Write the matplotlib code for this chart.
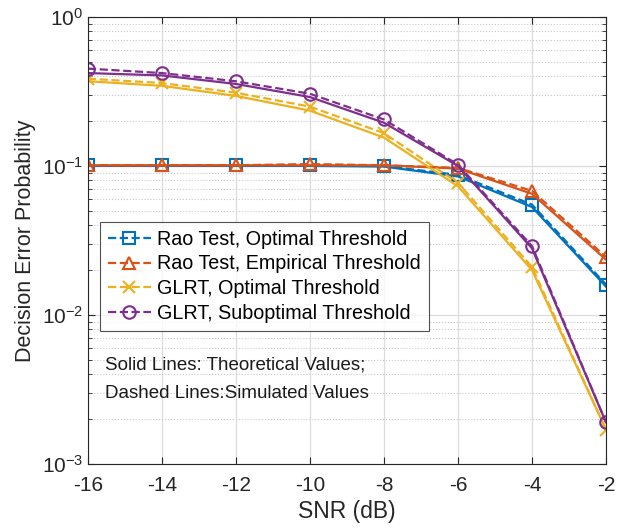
import matplotlib
matplotlib.use("Agg")
import matplotlib.pyplot as plt
from matplotlib.ticker import LogLocator, NullFormatter, FixedLocator, FixedFormatter

plt.rcParams['font.family'] = ['Liberation Sans', 'DejaVu Sans']
plt.rcParams['mathtext.fontset'] = 'custom'
plt.rcParams['mathtext.rm'] = 'Liberation Sans'
plt.rcParams['mathtext.it'] = 'Liberation Sans:italic'

snr = [-16, -14, -12, -10, -8, -6, -4, -2]

rao_opt_theory = [0.100, 0.100, 0.100, 0.100, 0.099, 0.085, 0.053, 0.0155]
rao_opt_sim    = [0.101, 0.101, 0.101, 0.101, 0.100, 0.087, 0.055, 0.0160]
rao_emp_theory = [0.101, 0.101, 0.101, 0.101, 0.101, 0.096, 0.065, 0.0235]
rao_emp_sim    = [0.101, 0.101, 0.101, 0.103, 0.101, 0.097, 0.068, 0.0245]
glrt_opt_theory = [0.37, 0.345, 0.295, 0.235, 0.155, 0.073, 0.020, 0.0017]
glrt_opt_sim    = [0.385, 0.36, 0.31, 0.25, 0.166, 0.077, 0.021, 0.0017]
glrt_sub_theory = [0.42, 0.405, 0.355, 0.29, 0.195, 0.100, 0.028, 0.0019]
glrt_sub_sim    = [0.45, 0.42, 0.37, 0.305, 0.205, 0.102, 0.029, 0.0019]

labels = ['Rao Test, Optimal Threshold', 'Rao Test, Empirical Threshold',
          'GLRT, Optimal Threshold', 'GLRT, Suboptimal Threshold']
colors = ['#0072BD', '#D95319', '#EDB120', '#7E2F8E']
markers = ['s', '^', 'x', 'o']
ytick_vals = [1e-3, 1e-2, 1e-1, 1e0]
ytick_labels = [r'$\mathregular{10^{-3}}$', r'$\mathregular{10^{-2}}$',
                r'$\mathregular{10^{-1}}$', r'$\mathregular{10^{0}}$']

fig = plt.figure(figsize=(6.19, 5.29), dpi=100)
ax = fig.add_axes([0.142, 0.123, 0.837, 0.845])

theory = [rao_opt_theory, rao_emp_theory, glrt_opt_theory, glrt_sub_theory]
sim = [rao_opt_sim, rao_emp_sim, glrt_opt_sim, glrt_sub_sim]
handles = []
for th, si, c, m, lab in zip(theory, sim, colors, markers, labels):
    ax.plot(snr, th, '-', color=c, lw=1.6)
    h, = ax.plot(snr, si, '--', color=c, lw=1.6, marker=m, markersize=9,
                 markerfacecolor='none', markeredgewidth=1.5, label=lab)
    handles.append(h)

ax.set_yscale('log')
ax.set_xlim(-16, -2)
ax.set_ylim(1e-3, 1)
ax.set_xticks(snr)
ax.set_xticklabels([str(s) for s in snr])
ax.yaxis.set_major_locator(FixedLocator(ytick_vals))
ax.yaxis.set_major_formatter(FixedFormatter(ytick_labels))
ax.yaxis.set_minor_locator(LogLocator(base=10, subs=range(2, 10), numticks=20))
ax.yaxis.set_minor_formatter(NullFormatter())

ax.grid(True, which='major', color='#dcdcdc', lw=0.9, ls='-')
ax.grid(True, which='minor', axis='y', color='#c8c8c8', lw=0.8, ls=':')
ax.set_axisbelow(True)
ax.tick_params(which='both', direction='in', top=True, right=True,
               labelsize=15, colors='#262626')
ax.tick_params(which='major', length=5)
ax.tick_params(which='minor', length=3)
ax.tick_params(axis='x', pad=9)
for sp in ax.spines.values():
    sp.set_color('#262626')
    sp.set_linewidth(0.8)

ax.set_xlabel('SNR (dB)', fontsize=16.5, color='#262626', labelpad=3)
ax.set_ylabel('Decision Error Probability', fontsize=15.5, color='#262626', labelpad=4)

leg = ax.legend(handles=handles, loc='upper left', bbox_to_anchor=(0.023, 0.542),
                fontsize=14.2, frameon=True, fancybox=False, edgecolor='#262626',
                handlelength=2.2, handletextpad=0.3, borderpad=0.4, labelspacing=0.3,
                borderaxespad=0.0)
leg.get_frame().set_linewidth(0.8)

ax.text(0.033, 0.222, 'Solid Lines: Theoretical Values;', transform=ax.transAxes,
        fontsize=13.5, color='#1a1a1a', va='center')
ax.text(0.033, 0.157, 'Dashed Lines:Simulated Values', transform=ax.transAxes,
        fontsize=13.5, color='#1a1a1a', va='center')

fig.savefig('out.png', dpi=100)
